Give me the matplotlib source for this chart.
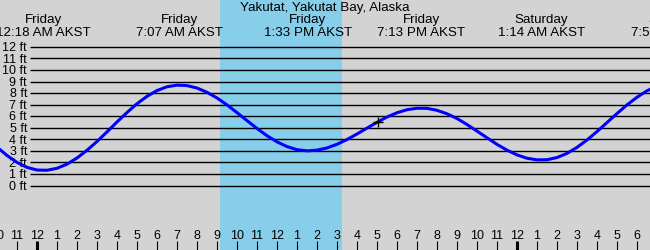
import numpy as np
import matplotlib
matplotlib.use("Agg")
import matplotlib.pyplot as plt
from matplotlib.transforms import blended_transform_factory

# ---------------- data ----------------
title = "Yakutat, Yakutat Bay, Alaska"

# tide heights (ft) every half hour, hours from Friday midnight
tide_hours = np.arange(-2.0, 31.01, 0.5)
tide_heights = [3.33, 2.60, 2.00, 1.57, 1.34,
                1.32, 1.49, 1.85, 2.38, 3.05, 3.81, 4.64, 5.50, 6.32, 7.08, 7.72, 8.22, 8.55, 8.69,
                8.65, 8.44, 8.07, 7.58, 6.98, 6.31, 5.62, 4.94, 4.31, 3.78, 3.37, 3.10, 3.00,
                3.06, 3.25, 3.57, 3.98, 4.46, 4.97, 5.47, 5.93, 6.30, 6.56, 6.69,
                6.68, 6.51, 6.21, 5.80, 5.28, 4.71, 4.13, 3.56, 3.06, 2.65, 2.36, 2.22,
                2.23, 2.42, 2.78, 3.30, 3.94, 4.67, 5.45, 6.23, 6.98, 7.64, 8.20, 8.60]

extreme_days = ["Friday", "Friday", "Friday", "Friday", "Saturday", "Saturday"]
extreme_times = ["12:18 AM AKST", "7:07 AM AKST", "1:33 PM AKST",
                 "7:13 PM AKST", "1:14 AM AKST", "7:54 AM AKST"]
extreme_hours = [0.30, 7.117, 13.55, 19.217, 25.233, 31.9]

sunrise_hour = 9.15
sunset_hour = 15.25

now_hour = 17.07
now_height = 5.50

ft_levels = list(range(0, 13))
ft_labels = [f"{v} ft" for v in ft_levels]

hour_ticks = list(range(-2, 31))
hour_labels = ["10", "11", "12", "1", "2", "3", "4", "5", "6", "7", "8", "9", "10", "11",
               "12", "1", "2", "3", "4", "5", "6", "7", "8", "9", "10", "11",
               "12", "1", "2", "3", "4", "5", "6"]
midnight_ticks = [0, 24]

# ---------------- layout ----------------
W, H = 650, 250
px_per_hour = 20.0
x_zero = 37.0
y_zero = 185.5
px_per_ft = 11.55

def x_to_h(x):
    return (x - x_zero) / px_per_hour

def y_to_ft(y):
    return (y_zero - y) / px_per_ft

plt.rcParams['font.family'] = ['Liberation Sans', 'DejaVu Sans']
fs = 9
fs_top = 9.6

fig = plt.figure(figsize=(W / 100, H / 100), dpi=100)
fig.patch.set_facecolor("#d3d3d3")
ax = fig.add_axes([0, 0, 1, 1])
ax.set_facecolor("#d3d3d3")
ax.set_xlim(x_to_h(0), x_to_h(W))
ax.set_ylim(y_to_ft(H), y_to_ft(0))
ax.axis("off")

# daylight band
ax.axvspan(sunrise_hour, sunset_hour, color="#87ceeb", zorder=0, lw=0)

# horizontal ft lines + labels
for v, lab in zip(ft_levels, ft_labels):
    ax.plot([x_to_h(29.5), x_to_h(W + 5)], [v, v], color="black", lw=1.0, zorder=1,
            solid_capstyle="butt")
    ax.text(x_to_h(27), v - 4.3 / px_per_ft, lab, ha="right", va="baseline",
            fontsize=fs, color="black", zorder=1)

# tide curve
ax.plot(tide_hours, tide_heights, color="#0000ff", lw=2.2, zorder=3,
        solid_joinstyle="round")

# current-time marker
ax.plot([now_hour], [now_height], marker="+", color="black", markersize=7,
        markeredgewidth=1.0, zorder=4)

tr = blended_transform_factory(ax.transData, ax.transAxes)

# title
ax.text(0.5, 1 - 11.5 / H, title, transform=ax.transAxes, ha="center", va="baseline",
        fontsize=fs_top, color="black")

# extreme labels
for d, t, h in zip(extreme_days, extreme_times, extreme_hours):
    ax.text(h, 1 - 23.5 / H, d, transform=tr, ha="center", va="baseline", fontsize=fs_top)
    ax.text(h, 1 - 35.5 / H, t, transform=tr, ha="center", va="baseline", fontsize=fs_top)

# hour ticks + labels
for h, lab in zip(hour_ticks, hour_labels):
    lw = 2.2 if h in midnight_ticks else 0.8
    ax.plot([h, h], [0, 9 / H], transform=tr, color="black", lw=lw,
            solid_capstyle="butt", clip_on=False)
    ax.text(h, 1 - 239 / H, lab, transform=tr, ha="center", va="baseline", fontsize=fs)

fig.savefig("out.png", dpi=100, facecolor=fig.get_facecolor())
